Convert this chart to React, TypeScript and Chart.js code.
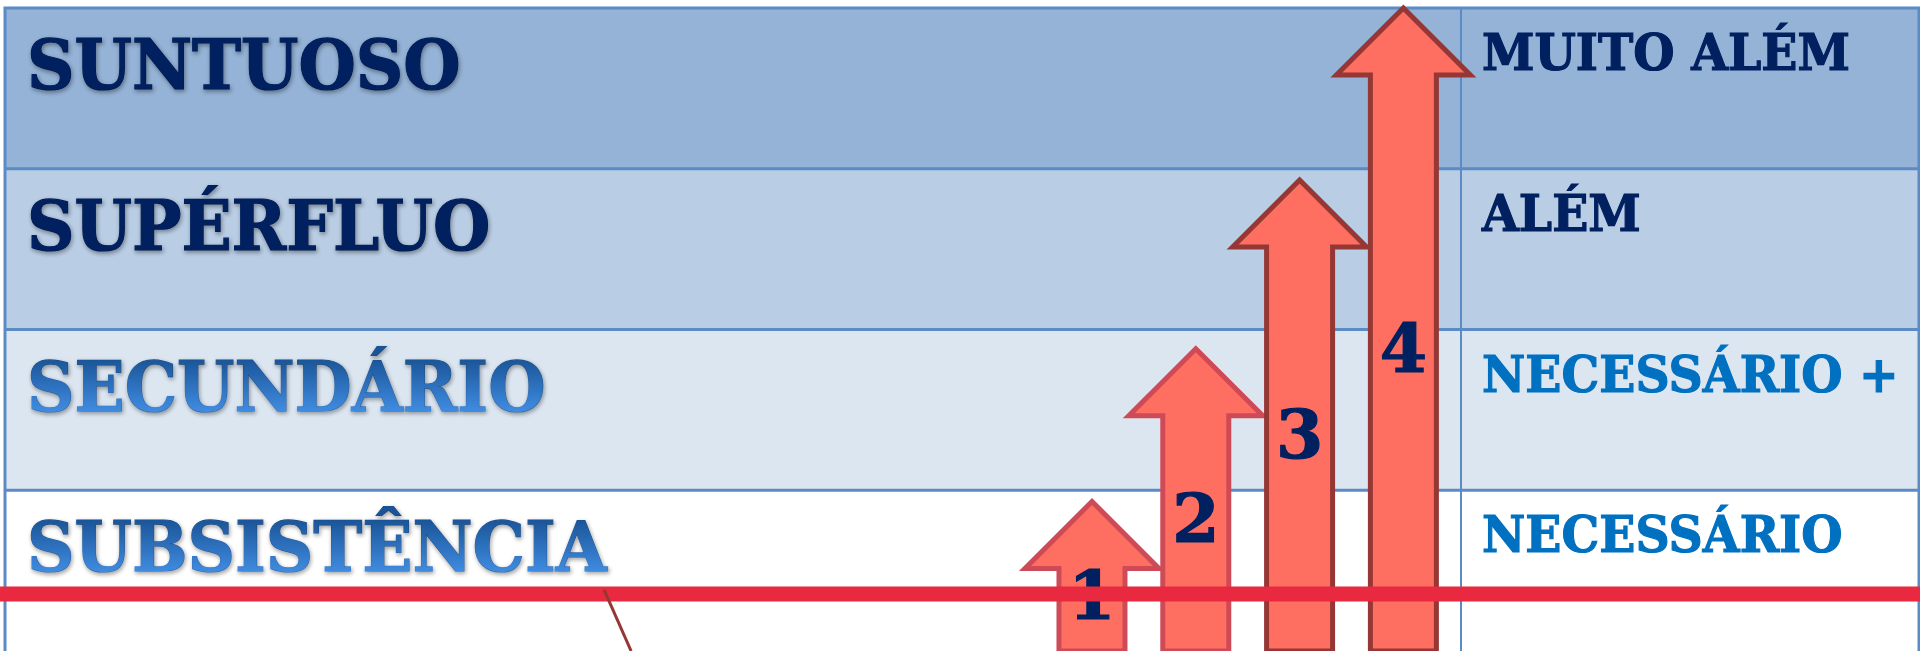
import React, { useEffect, useRef } from "react";
import { Chart, registerables } from "chart.js";

Chart.register(...registerables);

// ---- data ----
const levelLabels = ["SUBSISTÊNCIA", "SECUNDÁRIO", "SUPÉRFLUO", "SUNTUOSO"];
const levelNotes = ["NECESSÁRIO", "NECESSÁRIO +", "ALÉM", "MUITO ALÉM"];
const stepLabels = ["1", "2", "3", "4"];
const stepPositions = [1, 2, 3, 4];
const stepHeights = [0.93, 1.88, 2.93, 4.0];
const baselineLevel = 0.355;
const slashX = [-3.7, -3.44];
const slashY = [0.38, 0];

// ---- styles ----
const levelFills = ["#ffffff", "#dce6f1", "#b9cde4", "#95b3d7"];
const noteColors = ["#0070c0", "#0070c0", "#002060", "#002060"];
const arrowStrokes = ["#cf4a57", "#cf4a57", "#953735", "#953735"];
const X_MIN = -9.52;
const X_MAX = 8.977;
const DIVIDER = 4.555;
const TEXT_SX = 0.94;

function drawScaled(ctx: any, text: string, x: number, y: number, sx: number, stroke: boolean) {
  ctx.save();
  ctx.translate(x, y);
  ctx.scale(sx, 1);
  if (stroke) {
    ctx.lineWidth = 1.2;
    ctx.strokeStyle = ctx.fillStyle;
    ctx.strokeText(text, 0, 0);
  }
  ctx.fillText(text, 0, 0);
  ctx.restore();
}

const tablePlugin = {
  id: "levelTable",
  beforeDatasetsDraw(chart: any) {
    const { ctx, chartArea, scales } = chart;
    const ys = scales.y;
    const xs = scales.x;
    const left = chartArea.left + 5;
    const right = chartArea.right - 1;
    const divX = xs.getPixelForValue(DIVIDER);
    ctx.save();
    for (let i = 0; i < levelLabels.length; i++) {
      const top = ys.getPixelForValue(i + 1);
      const bottom = i === 0 ? chartArea.bottom + 10 : ys.getPixelForValue(i);
      ctx.fillStyle = levelFills[i];
      ctx.fillRect(left, top, right - left, bottom - top);
    }
    ctx.strokeStyle = "#5b8bc5";
    ctx.lineWidth = 3;
    ctx.beginPath();
    ctx.moveTo(left, chartArea.bottom + 10);
    ctx.lineTo(left, ys.getPixelForValue(4));
    ctx.lineTo(right, ys.getPixelForValue(4));
    ctx.lineTo(right, chartArea.bottom + 10);
    for (let i = 1; i < 4; i++) {
      const yy = ys.getPixelForValue(i);
      ctx.moveTo(left, yy);
      ctx.lineTo(right, yy);
    }
    ctx.stroke();
    ctx.lineWidth = 2;
    ctx.beginPath();
    ctx.moveTo(divX, ys.getPixelForValue(4));
    ctx.lineTo(divX, chartArea.bottom + 10);
    ctx.stroke();

    // texts
    for (let i = 0; i < levelLabels.length; i++) {
      const top = ys.getPixelForValue(i + 1);
      const base = top + 81;
      ctx.font = "bold 70px 'DejaVu Serif'";
      ctx.textAlign = "left";
      ctx.textBaseline = "alphabetic";
      ctx.save();
      ctx.shadowColor = "rgba(0,0,0,0.35)";
      ctx.shadowBlur = 4;
      ctx.shadowOffsetX = 1;
      ctx.shadowOffsetY = 2;
      if (i < 2) {
        const g = ctx.createLinearGradient(0, -52, 0, 0);
        g.addColorStop(0, "#1a5497");
        g.addColorStop(1, "#3f8be0");
        ctx.fillStyle = g;
      } else {
        ctx.fillStyle = "#002060";
      }
      drawScaled(ctx, levelLabels[i], left + 22, base, TEXT_SX, true);
      ctx.restore();

      ctx.font = "bold 51px 'DejaVu Serif'";
      ctx.fillStyle = noteColors[i];
      drawScaled(ctx, levelNotes[i], divX + 21, top + 62, 0.93, true);
    }
    ctx.restore();
  },
  afterDatasetDraw(chart: any, args: any) {
    if (args.index !== 2) return;
    const { ctx, chartArea } = chart;
    const meta = chart.getDatasetMeta(2);
    ctx.save();
    meta.data.forEach((el: any, i: number) => {
      const x = el.x;
      const tip = el.y;
      const base = el.base;
      const hw = el.width / 2;
      const headHalf = 67;
      const headH = 67;
      ctx.beginPath();
      ctx.moveTo(x, tip);
      ctx.lineTo(x + headHalf, tip + headH);
      ctx.lineTo(x + hw, tip + headH);
      ctx.lineTo(x + hw, base);
      ctx.lineTo(x - hw, base);
      ctx.lineTo(x - hw, tip + headH);
      ctx.lineTo(x - headHalf, tip + headH);
      ctx.closePath();
      ctx.fillStyle = "#ff6f61";
      ctx.fill();
      ctx.lineWidth = 5;
      ctx.lineJoin = "miter";
      ctx.miterLimit = 10;
      ctx.strokeStyle = arrowStrokes[i];
      ctx.stroke();
    });
    meta.data.forEach((el: any, i: number) => {
      const headBase = el.y + 67;
      const center = (headBase + chartArea.bottom) / 2 - 16;
      ctx.font = "bold 68px 'DejaVu Serif'";
      ctx.textAlign = "center";
      ctx.textBaseline = "alphabetic";
      ctx.fillStyle = "#002060";
      ctx.lineWidth = 1.2;
      ctx.strokeStyle = "#002060";
      ctx.strokeText(stepLabels[i], el.x, center + 25);
      ctx.fillText(stepLabels[i], el.x, center + 25);
    });
    ctx.restore();
  },
};

export default function App() {
  const ref = useRef<HTMLCanvasElement | null>(null);
  useEffect(() => {
    document.body.style.margin = "0";
    if (!ref.current) return;
    const chart = new Chart(ref.current, {
      type: "bar",
      data: {
        datasets: [
          {
            type: "line",
            label: "slash",
            data: slashX.map((x, i) => ({ x, y: slashY[i] })),
            borderColor: "#953735",
            borderWidth: 3,
            pointRadius: 0,
          } as any,
          {
            type: "line",
            label: "linha",
            data: [
              { x: X_MIN, y: baselineLevel },
              { x: X_MAX, y: baselineLevel },
            ],
            borderColor: "#e8293f",
            borderWidth: 15,
            pointRadius: 0,
          } as any,
          {
            type: "bar",
            label: "passos",
            data: stepPositions.map((x, i) => ({ x, y: stepHeights[i] })),
            backgroundColor: "rgba(0,0,0,0)",
            borderWidth: 0,
            barThickness: 66,
          } as any,
        ],
      },
      options: {
        animation: false,
        responsive: true,
        maintainAspectRatio: false,
        layout: { padding: 0 },
        plugins: { legend: { display: false }, tooltip: { enabled: false } },
        scales: {
          x: { type: "linear", min: X_MIN, max: X_MAX, offset: false, display: false },
          y: { type: "linear", min: 0, max: 4.05, display: false },
        },
      },
      plugins: [tablePlugin],
    });
    return () => chart.destroy();
  }, []);
  return (
    <div style={{ position: "absolute", left: 0, top: 0, width: 1920, height: 651, background: "#ffffff" }}>
      <canvas ref={ref} />
    </div>
  );
}
